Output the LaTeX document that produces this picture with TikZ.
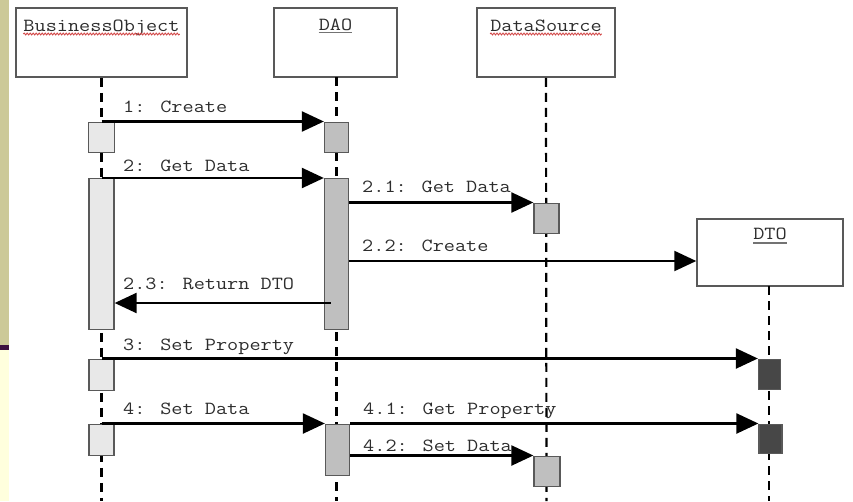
\documentclass[tikz,border=0pt]{standalone}
\usepackage{fontspec}
\usepackage{graphicx}
\usetikzlibrary{arrows.meta,decorations.pathmorphing}
\definecolor{olivestrip}{RGB}{204,201,152}
\definecolor{purplebar}{RGB}{60,16,64}
\definecolor{paleyellow}{RGB}{255,255,221}
\definecolor{txtgray}{RGB}{45,45,45}
\definecolor{spellred}{RGB}{210,70,70}
\newcommand{\codefnt}{\ttfamily\fontsize{18.5}{22}\selectfont}
\newcommand{\ctext}[1]{\scalebox{1.17}[1]{#1}}
\begin{document}
\begin{tikzpicture}[x=1pt,y=-1pt,
  objbox/.style={draw=black!65, line width=1.5pt, fill=white, inner sep=0pt},
  objname/.style={font=\codefnt, text=txtgray, inner sep=0pt, anchor=base},
  actl/.style={draw=black!65, line width=1.3pt, fill=black!9, inner sep=0pt, anchor=north},
  actm/.style={actl, fill=black!25},
  actd/.style={actl, fill=black!72},
  life/.style={draw=black, line width=2.2pt, dash pattern=on 9pt off 6pt},
  msg/.style={draw=black, line width=2.3pt, -{Triangle[length=22pt,width=20pt]}},
  lbl/.style={font=\codefnt, text=txtgray, inner sep=0pt, anchor=base west},
  spell/.style={draw=spellred, line width=0.9pt, decorate, decoration={snake, amplitude=0.9pt, segment length=3pt}},
  uline/.style={draw=black!55, line width=1.6pt}
]
\useasboundingbox (0,0) rectangle (853,501);
\fill[white] (0,0) rectangle (853,501);
% left strip
\fill[olivestrip] (0,0) rectangle (9,345);
\fill[purplebar] (0,345) rectangle (9,350);
\fill[paleyellow] (0,350) rectangle (9,501);

% object boxes
\node[objbox, minimum width=171pt, minimum height=69pt] (bo) at (101.5,42.5) {};
\node[objbox, minimum width=123pt, minimum height=69pt] (dao) at (335.5,42.5) {};
\node[objbox, minimum width=138pt, minimum height=69pt] (ds) at (546,42.5) {};
\node[objbox, minimum width=146pt, minimum height=67pt] (dto) at (770,252.5) {};

\node[objname] (boname) at (101.5,31) {\ctext{BusinessObject}};
\node[objname] (daoname) at (335.5,30) {\ctext{DAO}};
\node[objname] (dsname) at (546,31) {\ctext{DataSource}};
\node[objname] (dtoname) at (770,239) {\ctext{DTO}};
\draw[spell] (boname.base west) ++(0,-3pt) -- (boname.base east |- 0,34);
\draw[spell] (dsname.base west) ++(0,-3pt) -- (dsname.base east |- 0,34);
\draw[uline] (daoname.base west) ++(0,-2.5pt) -- (daoname.base east |- 0,32.5);
\draw[uline] (dtoname.base west) ++(0,-4pt) -- (dtoname.base east |- 0,243);

% lifeline ends
\coordinate (boend) at (101.5,501);
\coordinate (daoend) at (336.5,501);
\coordinate (dsend) at (546.5,501);
\coordinate (dtoend) at (769,501);
\draw[life] (bo.south) -- (boend);
\draw[life] (336.5,77) -- (daoend);
\draw[life] (ds.south) -- (dsend);
\draw[life] (769,286) -- (dtoend);

% activations
\node[actl, minimum width=26pt, minimum height=30pt] (bo1) at (101.5,121.5) {};
\node[actm, minimum width=24pt, minimum height=30pt] (dao1) at (336.5,121.5) {};
\node[actl, minimum width=25pt, minimum height=151pt] (bo2) at (101.5,178) {};
\node[actm, minimum width=24pt, minimum height=151pt] (dao2) at (336.5,178) {};
\node[actm, minimum width=25pt, minimum height=30pt] (ds1) at (546.5,202.5) {};
\node[actl, minimum width=25pt, minimum height=31pt] (bo3) at (101.5,358.5) {};
\node[actd, minimum width=22pt, minimum height=30pt] (dto1) at (769.5,358.5) {};
\node[actl, minimum width=25pt, minimum height=31pt] (bo4) at (101.5,423.5) {};
\node[actm, minimum width=24pt, minimum height=51pt] (dao3) at (337.5,423.5) {};
\node[actd, minimum width=23pt, minimum height=29pt] (dto2) at (770.5,423.5) {};
\node[actm, minimum width=26pt, minimum height=30pt] (ds2) at (547,455.5) {};

\coordinate (m22) at ([yshift=-83pt]dao2.north east);
\coordinate (m23s) at ([xshift=7pt,yshift=-125pt]dao2.north west);
\coordinate (m23e) at ([yshift=-125pt]bo2.north east);

% messages
\draw[msg] (bo1.north) -- (dao1.north west);
\draw[msg] (bo2.north) -- (dao2.north west);
\draw[msg] (dao2.east |- ds1.north) -- (ds1.north west);
\draw[msg] (m22) -- (dto.west |- m22);
\draw[msg] (m23s) -- (m23e);
\draw[msg] (bo3.north) -- (dto1.north west);
\draw[msg] (bo4.north) -- (dao3.north west);
\draw[msg] (dao3.north east) -- (dto2.north west);
\draw[msg] (dao3.east |- ds2.north) -- (ds2.north west);

% labels
\node[lbl] (l1) at (123,112) {\ctext{1: Create}};
\node[lbl] (l2) at (123,171) {\ctext{2: Get Data}};
\node[lbl] (l21) at (362,192) {\ctext{2.1: Get Data}};
\node[lbl] (l22) at (362,251) {\ctext{2.2: Create}};
\node[lbl] (l23) at (123,289) {\ctext{2.3: Return DTO}};
\node[lbl] (l3) at (123,350) {\ctext{3: Set Property}};
\node[lbl] (l4) at (123,414) {\ctext{4: Set Data}};
\node[lbl] (l41) at (363,414) {\ctext{4.1: Get Property}};
\node[lbl] (l42) at (363,451) {\ctext{4.2: Set Data}};
\end{tikzpicture}
\end{document}
